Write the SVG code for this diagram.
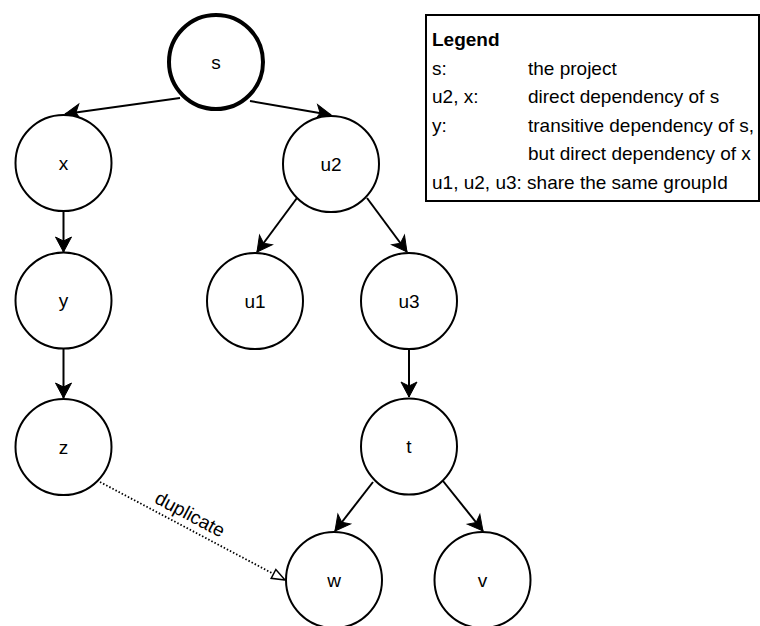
<svg xmlns="http://www.w3.org/2000/svg" width="760" height="626" viewBox="0 0 760 626">
  <defs>
    <marker id="arrow" markerUnits="userSpaceOnUse" markerWidth="22" markerHeight="22" viewBox="-18 -11 22 22" refX="0" refY="0" orient="auto">
      <path d="M0,0 L-15,-8 L-11,0 L-15,8 Z" fill="#000" stroke="#000" stroke-width="1"/>
    </marker>
    <marker id="open" markerUnits="userSpaceOnUse" markerWidth="20" markerHeight="20" viewBox="-16 -10 20 20" refX="0" refY="0" orient="auto">
      <path d="M0,0 L-13,-5 L-13,5 Z" fill="#fff" stroke="#000" stroke-width="1.5"/>
    </marker>
    <style>
      .node circle { fill: #fff; stroke: #000; stroke-width: 2; }
      .node.root circle { stroke-width: 4; }
      text { font-family: "Liberation Sans", Arial, sans-serif; font-size: 19px; fill: #000; }
      .label { text-anchor: middle; }
      .edge { fill: none; stroke: #000; stroke-width: 2; marker-end: url(#arrow); }
      .dup { fill: none; stroke: #000; stroke-width: 1.8; stroke-dasharray: 1.5 2; marker-end: url(#open); }
    </style>
  </defs>

  <!-- connectors -->
  <g id="edges">
    <line class="edge" x1="180" y1="98" x2="65" y2="114"/>
    <line class="edge" x1="250" y1="101" x2="331" y2="115"/>
    <line class="edge" x1="63.5" y1="211" x2="63.5" y2="252"/>
    <line class="edge" x1="63.5" y1="349" x2="63.5" y2="398"/>
    <line class="edge" x1="297" y1="198" x2="257" y2="252"/>
    <line class="edge" x1="367" y1="198" x2="407" y2="252"/>
    <line class="edge" x1="409" y1="349" x2="409" y2="397"/>
    <line class="edge" x1="373" y1="482" x2="335" y2="531"/>
    <line class="edge" x1="443" y1="481" x2="483" y2="531"/>
    <line class="dup" x1="100" y1="482" x2="285" y2="580"/>
    <text class="label" transform="translate(187,520) rotate(27.9)">duplicate</text>
  </g>

  <g id="node-s" class="node root"><circle cx="216" cy="62" r="47"/><text class="label" x="216" y="69">s</text></g>
  <g id="node-x" class="node"><circle cx="63.5" cy="163" r="48"/><text class="label" x="63.5" y="170">x</text></g>
  <g id="node-u2" class="node"><circle cx="331" cy="164" r="48"/><text class="label" x="331" y="171">u2</text></g>
  <g id="node-y" class="node"><circle cx="63.5" cy="300.5" r="48"/><text class="label" x="63.5" y="307">y</text></g>
  <g id="node-u1" class="node"><circle cx="255" cy="301" r="48"/><text class="label" x="255" y="308">u1</text></g>
  <g id="node-u3" class="node"><circle cx="409" cy="301" r="48"/><text class="label" x="409" y="308">u3</text></g>
  <g id="node-z" class="node"><circle cx="63.5" cy="447" r="48"/><text class="label" x="63.5" y="454">z</text></g>
  <g id="node-t" class="node"><circle cx="409" cy="446.5" r="48"/><text class="label" x="409" y="453">t</text></g>
  <g id="node-w" class="node"><circle cx="334" cy="580" r="48"/><text class="label" x="334" y="587">w</text></g>
  <g id="node-v" class="node"><circle cx="482.5" cy="580" r="48"/><text class="label" x="482.5" y="587">v</text></g>

  <!-- legend -->
  <g id="legend">
    <rect x="426" y="15" width="333" height="186" fill="#fff" stroke="#000" stroke-width="2"/>
    <text x="432" y="46" font-weight="bold">Legend</text>
    <text x="432" y="74.5">s:</text>
    <text x="528" y="74.5">the project</text>
    <text x="432" y="103">u2, x:</text>
    <text x="528" y="103">direct dependency of s</text>
    <text x="432" y="131.5">y:</text>
    <text x="528" y="131.5">transitive dependency of s,</text>
    <text x="528" y="160">but direct dependency of x</text>
    <text x="432" y="188.5">u1, u2, u3: share the same groupId</text>
  </g>
</svg>
